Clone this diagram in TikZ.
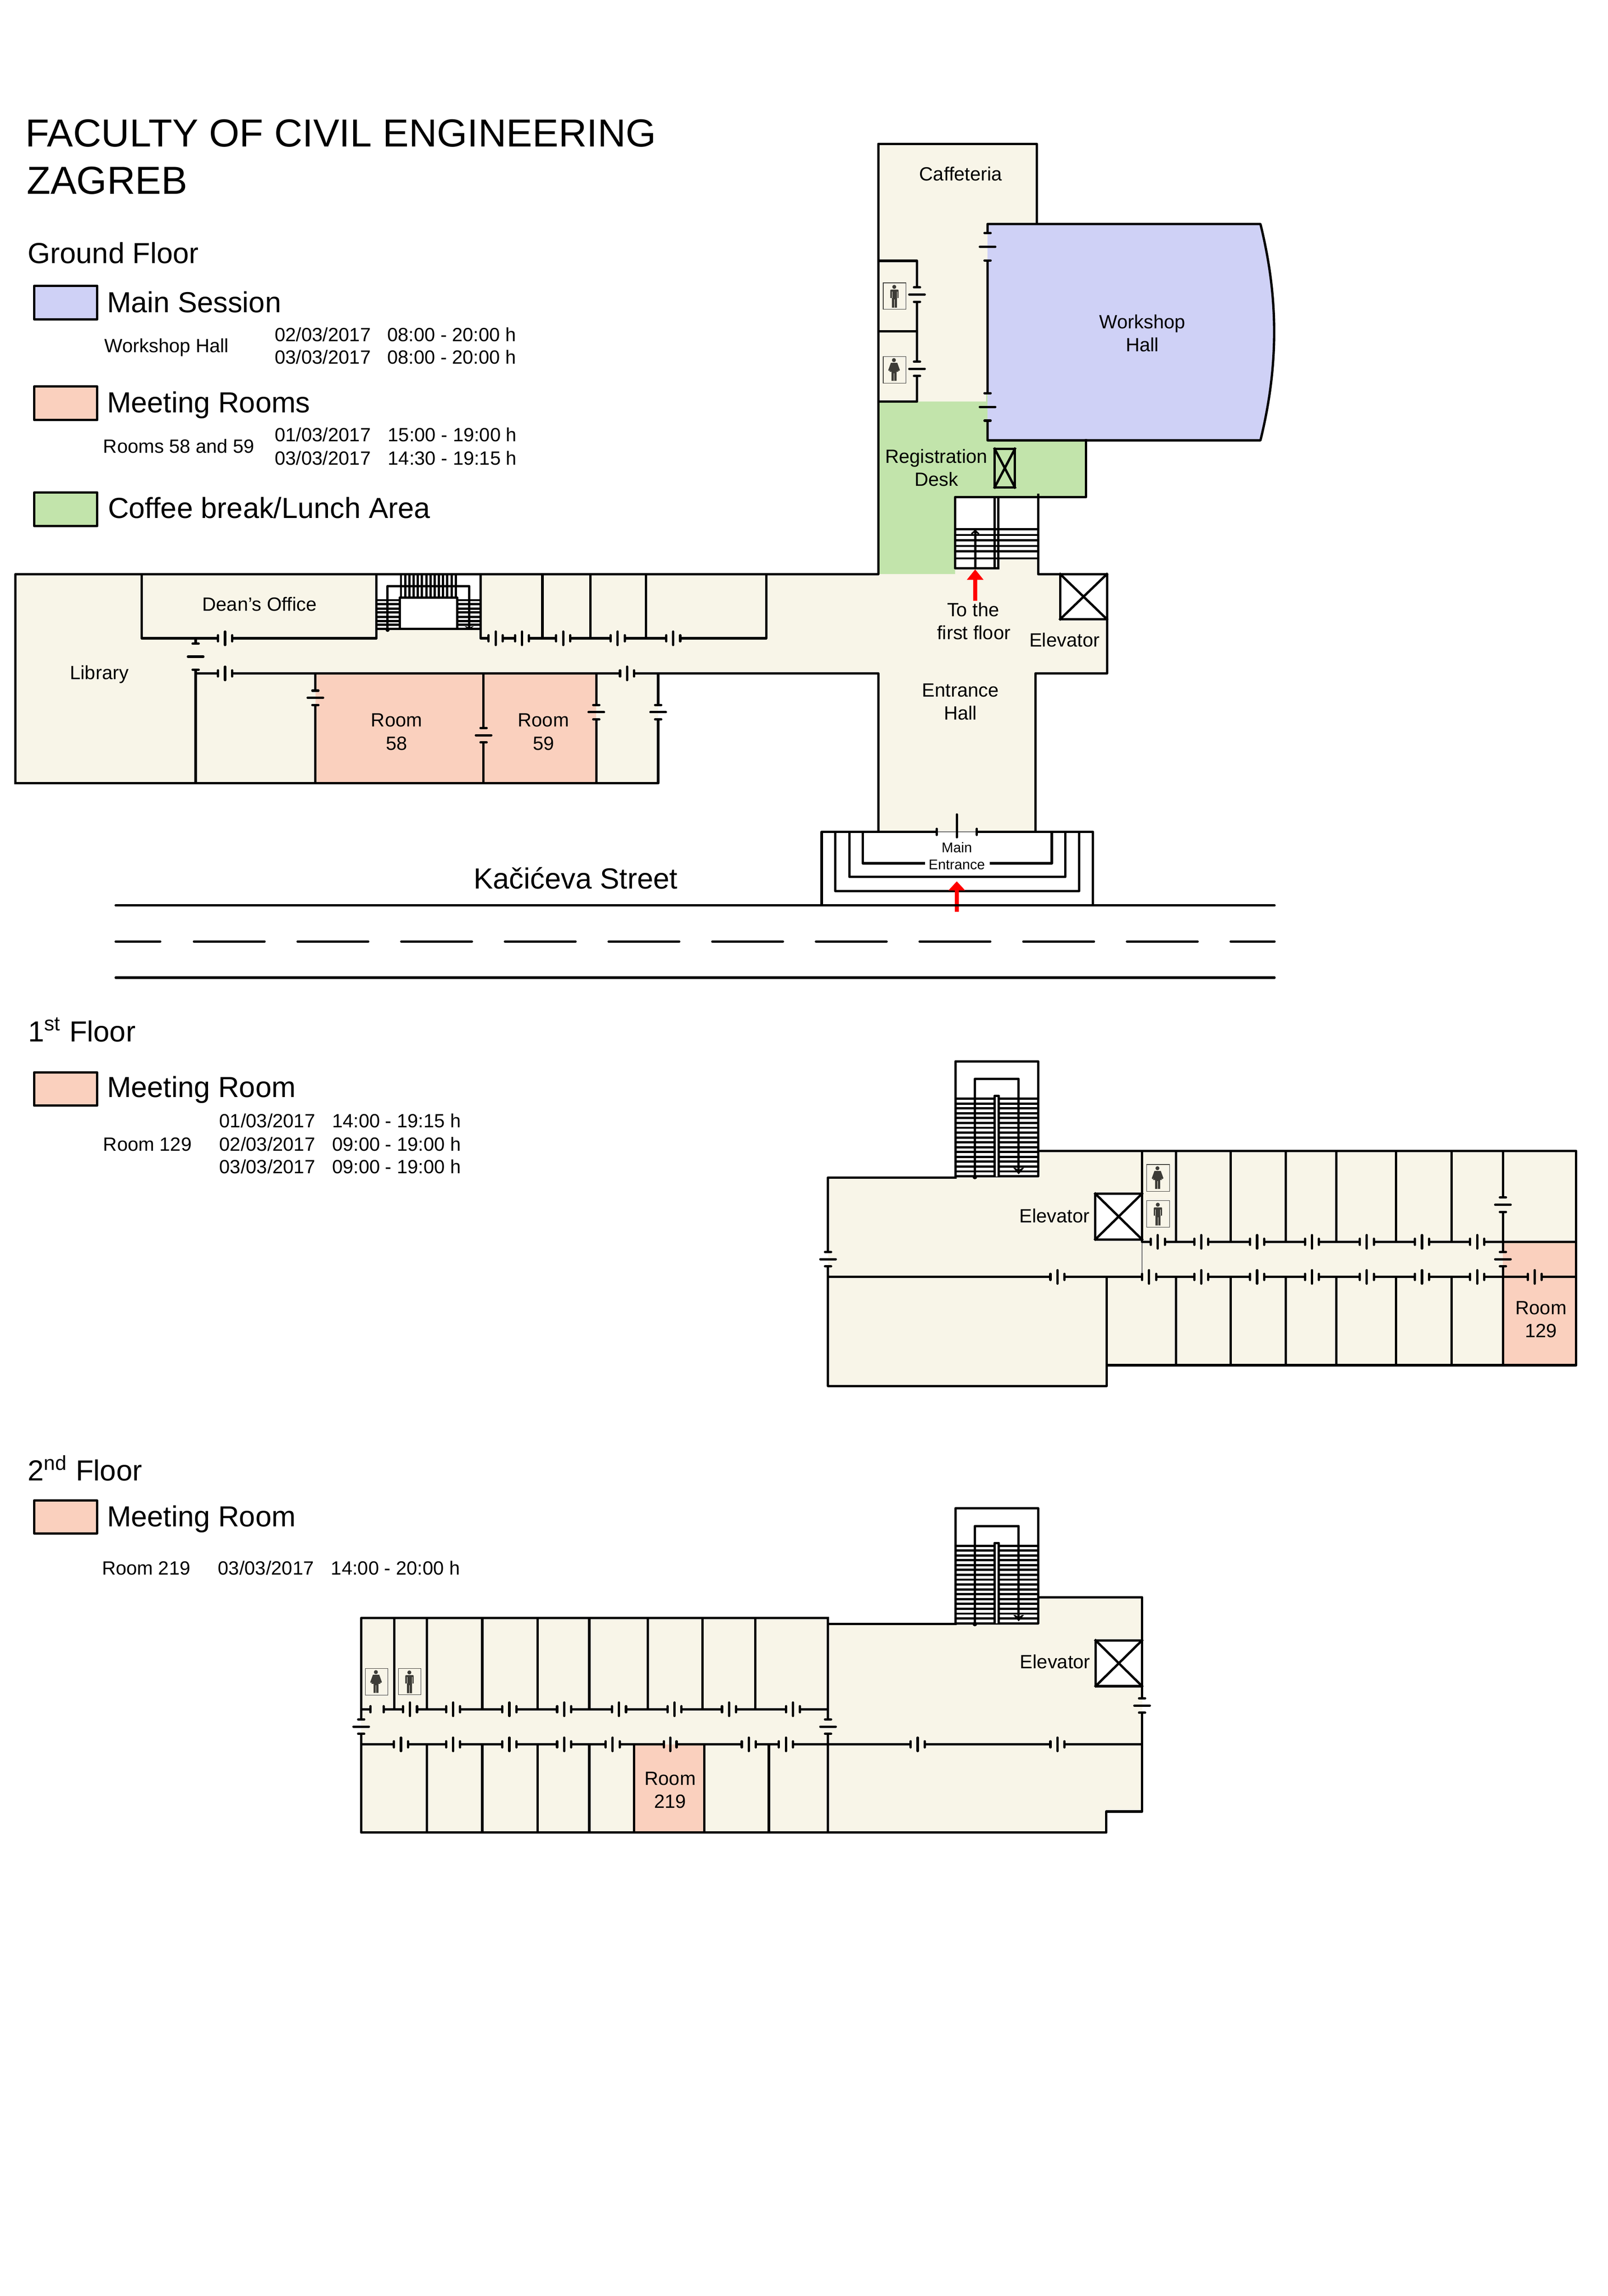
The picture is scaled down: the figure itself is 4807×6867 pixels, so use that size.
\documentclass[tikz,border=0pt]{standalone}
\usepackage{fontspec}
\setmainfont{Liberation Sans}
\definecolor{beige}{HTML}{F8F5E8}
\definecolor{pinkroom}{HTML}{FAD0BE}
\definecolor{bluehall}{HTML}{CFD1F6}
\definecolor{greenarea}{HTML}{C2E4AB}
\definecolor{icondark}{HTML}{3D3C37}
\tikzset{
  wall/.style={line width=0.88pt,line join=round,line cap=rect,draw=black},
  tread/.style={line width=0.8pt,draw=black},
  tick/.style={line width=0.88pt,line cap=round,draw=black},
  swatch/.style={line width=0.88pt,draw=black,line join=round},
  roadline/.style={line width=0.88pt,line cap=round,draw=black},
  redarrow/.style={fill=red,draw=none},
  txt/.style={inner sep=0pt,outer sep=0pt,font=\fontsize{7.16pt}{8pt}\selectfont},
  txtsmall/.style={inner sep=0pt,outer sep=0pt,font=\fontsize{5.25pt}{6pt}\selectfont},
  txtmid/.style={inner sep=0pt,outer sep=0pt,font=\fontsize{10.85pt}{12pt}\selectfont},
  txtstreet/.style={inner sep=0pt,outer sep=0pt,font=\fontsize{10.9pt}{13pt}\selectfont},
  txtbig/.style={inner sep=0pt,outer sep=0pt,font=\fontsize{14.6pt}{16pt}\selectfont}
}
% horizontal door: x y topcolour bottomcolour halfgap
\newcommand{\hdc}[5]{%
  \fill[#3] ({#1-#5},{#2-5}) rectangle ({#1+#5},#2);
  \fill[#4] ({#1-#5},#2) rectangle ({#1+#5},{#2+5});
  \draw[tick] ({#1-#5},{#2-9}) -- ({#1-#5},{#2+9});
  \draw[tick] ({#1+#5},{#2-9}) -- ({#1+#5},{#2+9});
  \draw[tick] (#1,{#2-20}) -- (#1,{#2+20});
}
\newcommand{\hd}[2]{\hdc{#1}{#2}{beige}{beige}{21}}
% vertical door: x y leftcolour rightcolour halfgap
\newcommand{\vdc}[5]{%
  \fill[#3] ({#1-5},{#2-#5}) rectangle (#1,{#2+#5});
  \fill[#4] (#1,{#2-#5}) rectangle ({#1+5},{#2+#5});
  \draw[tick] ({#1-9},{#2-#5}) -- ({#1+9},{#2-#5});
  \draw[tick] ({#1-9},{#2+#5}) -- ({#1+9},{#2+#5});
  \draw[tick] ({#1-23},#2) -- ({#1+23},#2);
}
\newcommand{\vd}[2]{\vdc{#1}{#2}{beige}{beige}{21.5}}
% toilet icons, top-left corner of their box
\newcommand{\manicon}[2]{%
  \begin{scope}[shift={(#1,#2)}]
    \draw[line width=0.2pt,draw=icondark] (0,0) rectangle (68,79);
    \fill[icondark] (33,12) circle (6);
    \fill[icondark] (21,22) -- (23,20) -- (44,20) -- (46,22) -- (46,45) -- (41,45) -- (41,74) -- (26,74) -- (26,45) -- (21,45) -- cycle;
    \draw[beige,line width=0.1pt] (26,26) -- (26,45) (41,26) -- (41,45) (33.5,50) -- (33.5,74);
  \end{scope}}
\newcommand{\womanicon}[2]{%
  \begin{scope}[shift={(#1,#2)}]
    \draw[line width=0.2pt,draw=icondark] (0,0) rectangle (68,80);
    \fill[icondark] (32,11) circle (6);
    \fill[icondark] (23,19) -- (42,19) -- (50,41) -- (46,44) -- (44,38) -- (45,46) -- (40,46) -- (40,73) -- (25,73) -- (25,46) -- (19,46) -- (21,38) -- (18,44) -- (15,41) -- cycle;
    \draw[beige,line width=0.1pt] (32.5,50) -- (32.5,73);
  \end{scope}}
% X-marked lift box
\newcommand{\liftbox}[5]{%
  \draw[wall,fill=#5] (#1,#2) rectangle (#3,#4);
  \draw[wall] (#1,#2) -- (#3,#4) (#1,#4) -- (#3,#2);
}
% upper-floor staircase, vertical shift
\newcommand{\upperstairs}[1]{%
  \begin{scope}[shift={(0,#1)}]
    \fill[white] (2857,3174) rectangle (3104,3518);
    \foreach \i in {0,...,16} {\draw[tread,line width=0.84pt] (2857,{3286+14.5*\i}) -- (3104,{3286+14.5*\i});}
    \draw[wall] (2857,3518) -- (2857,3174) -- (3104,3174) -- (3104,3518) -- cycle;
    \draw[wall] (2915,3518) -- (2915,3227) -- (3046,3227) -- (3046,3505);
    \fill[white] (2974,3278) rectangle (2987,3518);
    \draw[wall] (2974,3518) -- (2974,3278) -- (2987,3278) -- (2987,3518);
    \fill (2915,3520) circle (7);
    \fill (3030,3493) -- (3036,3493) -- (3046,3500) -- (3056,3493) -- (3062,3493) -- (3046,3512) -- cycle;
  \end{scope}}
\begin{document}
\begin{tikzpicture}[x=0.125pt,y=-0.125pt]
\useasboundingbox (0,0) rectangle (4807,6867);
\fill[white] (0,0) rectangle (4807,6867);

% ---------- Titles and legend ----------
\node[txtbig,anchor=base west] (title1) at (76,439) {FACULTY OF CIVIL ENGINEERING};
\node[txtbig,anchor=base west] (title2) at (80,580) {ZAGREB};
\node[txtmid,anchor=base west] (groundfloor) at (83,787) {Ground Floor};

\draw[swatch,fill=bluehall] (102,855) rectangle (291,955);
\node[txtmid,anchor=base west] (mainsession) at (320,934) {Main Session};
\node[txt,anchor=base west] (wh) at (313,1054) {Workshop Hall};
\node[txt,anchor=base west] (wd1) at (822,1021) {02/03/2017};
\node[txt,anchor=base west] (wt1) at (1158,1021) {08:00 - 20:00 h};
\node[txt,anchor=base west] (wd2) at (822,1089) {03/03/2017};
\node[txt,anchor=base west] (wt2) at (1158,1089) {08:00 - 20:00 h};

\draw[swatch,fill=pinkroom] (102,1156) rectangle (291,1256);
\node[txtmid,anchor=base west] (meetingrooms) at (320,1234) {Meeting Rooms};
\node[txt,anchor=base west] (r5859) at (309,1355) {Rooms 58 and 59};
\node[txt,anchor=base west] (md1) at (822,1320) {01/03/2017};
\node[txt,anchor=base west] (mt1) at (1160,1320) {15:00 - 19:00 h};
\node[txt,anchor=base west] (md2) at (822,1390) {03/03/2017};
\node[txt,anchor=base west] (mt2) at (1160,1390) {14:30 - 19:15 h};

\draw[swatch,fill=greenarea] (102,1473) rectangle (291,1573);
\node[txtmid,anchor=base west] (coffee) at (323,1550) {Coffee break/Lunch Area};

\node[txtmid,anchor=base west] (firstfloor) at (84,3115) {1\textsuperscript{st} Floor};
\draw[swatch,fill=pinkroom] (102,3207) rectangle (290,3307);
\node[txtmid,anchor=base west] (meeting1) at (320,3282) {Meeting Room};
\node[txt,anchor=base west] (r129) at (309,3442) {Room 129};
\node[txt,anchor=base west] (fd1) at (656,3373) {01/03/2017};
\node[txt,anchor=base west] (ft1) at (993,3373) {14:00 - 19:15 h};
\node[txt,anchor=base west] (fd2) at (656,3442) {02/03/2017};
\node[txt,anchor=base west] (ft2) at (993,3442) {09:00 - 19:00 h};
\node[txt,anchor=base west] (fd3) at (656,3509) {03/03/2017};
\node[txt,anchor=base west] (ft3) at (993,3509) {09:00 - 19:00 h};

\node[txtmid,anchor=base west] (secondfloor) at (83,4429) {2\textsuperscript{nd} Floor};
\draw[swatch,fill=pinkroom] (102,4488) rectangle (290,4586);
\node[txtmid,anchor=base west] (meeting2) at (320,4566) {Meeting Room};
\node[txt,anchor=base west] (r219) at (305,4710) {Room 219};
\node[txt,anchor=base west] (sd1) at (652,4710) {03/03/2017};
\node[txt,anchor=base west] (st1) at (990,4710) {14:00 - 20:00 h};

% ---------- Ground floor fills ----------
\fill[beige] (46,1717) -- (3310,1717) -- (3310,2014) -- (3096,2014) -- (3096,2488) -- (2626,2488) -- (2626,2014) -- (1968,2014) -- (1968,2342) -- (46,2342) -- cycle;
\fill[beige] (2626,430) -- (3100,430) -- (3100,680) -- (2953,680) -- (2953,1201) -- (2626,1201) -- cycle;
\fill[greenarea] (2626,1201) -- (2953,1201) -- (2953,1317) -- (3247,1317) -- (3247,1487) -- (2856,1487) -- (2856,1717) -- (2626,1717) -- cycle;
\fill[beige] (2856,1660) rectangle (3104,1717);
\fill[white] (2856,1487) rectangle (2985,1699);
\fill[white] (2985,1487) rectangle (3104,1670);
\fill[bluehall] (2953,670) -- (3769,670) .. controls (3796,780) and (3810,885) .. (3810,993) .. controls (3810,1100) and (3796,1207) .. (3769,1317) -- (2953,1317) -- cycle;
\fill[white] (1126,1717) rectangle (1437,1881);
\fill[pinkroom] (943,2014) rectangle (1783,2342);

% ---------- Ground floor walls ----------
\draw[wall] (46,2342) -- (46,1717) -- (2626,1717) -- (2626,430) -- (3100,430) -- (3100,670);
\draw[wall] (46,2342) -- (1968,2342) -- (1968,2014) -- (585,2014);
\draw[wall] (2626,2488) -- (2626,2014) -- (1968,2014);
\draw[wall] (585,1909) -- (585,2342);
\draw[wall] (943,2014) -- (943,2342) (1446,2014) -- (1446,2342) (1783,2014) -- (1783,2342);
\draw[wall] (424,1717) -- (424,1909) -- (1126,1909) -- (1126,1717);
\draw[wall] (1437,1717) -- (1437,1909) -- (2291,1909) -- (2291,1717);
\draw[wall] (1622,1717) -- (1622,1909) (1765,1717) -- (1765,1909) (1932,1717) -- (1932,1909);
% workshop hall
\draw[wall] (2953,1317) -- (2953,670) -- (3769,670) .. controls (3796,780) and (3810,885) .. (3810,993) .. controls (3810,1100) and (3796,1207) .. (3769,1317) -- cycle;
% toilets
\draw[wall] (2626,780) -- (2742,780) -- (2742,1201) -- (2626,1201) (2626,991) -- (2742,991);
\womanicon{2641}{1066}
\manicon{2641}{846}
% registration area
\draw[wall] (3247,1317) -- (3247,1487) -- (2856,1487) -- (2856,1699) -- (2985,1699);
\liftbox{2974}{1342}{3035}{1458}{greenarea}
% registration stairs
\foreach \y in {1583,1600,1616,1633,1649,1670} {\draw[tread] (2856,\y) -- (3104,\y);}
\draw[wall] (2974,1487) -- (2974,1699) (2985,1487) -- (2985,1699);
\draw[wall] (3104,1480) -- (3104,1717) -- (3310,1717) -- (3310,2014) -- (3096,2014) -- (3096,2488);
\draw[wall] (2916,1699) -- (2916,1592);
\draw[line width=0.6pt] (2905,1597) -- (2916,1587) -- (2927,1597);
\liftbox{3170}{1717}{3310}{1852}{white}
% dean's stairs
\foreach \y in {1795,1807,1820,1832,1845,1857,1869} {\draw[tread,line width=0.84pt] (1126,\y) -- (1195,\y) (1367,\y) -- (1437,\y);}
\foreach \i in {0,...,13} {\draw[tread,line width=0.84pt] ({1199+12.6*\i},1717) -- ({1199+12.6*\i},1787);}
\draw[wall] (1159,1881) -- (1159,1753) -- (1403,1753) -- (1403,1875);
\draw[wall] (1195,1881) -- (1195,1787) -- (1367,1787) -- (1367,1881);
\draw[wall] (1126,1881) -- (1437,1881);
\fill (1159,1884) circle (6);
\fill (1389,1873) -- (1394,1873) -- (1403,1878) -- (1412,1873) -- (1417,1873) -- (1403,1883) -- cycle;
% ground-floor doors
\foreach \x in {673,1482,1561,1684,1847,2013} {\hd{\x}{1909}}
\foreach \x in {673,1875} {\hd{\x}{2014}}
\vdc{585}{1964}{beige}{beige}{39}
\vdc{943}{2087}{beige}{pinkroom}{21.5}
\vdc{1446}{2199}{pinkroom}{pinkroom}{21.5}
\vdc{1783}{2130}{pinkroom}{beige}{21.5}
\vdc{1968}{2130}{beige}{white}{21.5}
\vdc{2742}{881}{beige}{beige}{21.5}
\vdc{2742}{1103}{beige}{beige}{21.5}
\vdc{2953}{738}{beige}{bluehall}{41}
\vdc{2953}{1217}{greenarea}{bluehall}{41}
% entrance steps
\draw[wall] (2457,2708) -- (2457,2488) -- (3268,2488) -- (3268,2708);
\draw[wall] (2498,2488) -- (2498,2665) -- (3227,2665) -- (3227,2488);
\draw[wall] (2540,2488) -- (2540,2623) -- (3185,2623) -- (3185,2488);
\draw[wall] (2763,2582) -- (2580,2582) -- (2580,2488) (2963,2582) -- (3145,2582) -- (3145,2488);
\fill[beige] (2801,2483) rectangle (2921,2488);
\fill[white] (2801,2488) rectangle (2921,2493);
\draw[line width=0.1pt] (2801,2488) -- (2921,2488);
\draw[tick] (2801,2479) -- (2801,2497) (2921,2479) -- (2921,2497);
\draw[tick] (2861,2436) -- (2861,2504);
% red arrows
\fill[redarrow] (2910,1797) -- (2922,1797) -- (2922,1734) -- (2941,1734) -- (2916,1703) -- (2891,1734) -- (2910,1734) -- cycle;
\fill[redarrow] (2855,2727) -- (2867,2727) -- (2867,2663) -- (2886,2663) -- (2861,2636) -- (2836,2663) -- (2855,2663) -- cycle;
% street
\draw[roadline] (346,2708) -- (3811,2708);
\draw[roadline] (346,2924) -- (3811,2924);
\draw[roadline] (346,2816) -- (479,2816);
\foreach \x in {580,890,1200,1510,1820,2130,2440,2750,3060,3370} {\draw[roadline] (\x,2816) -- ({\x+211},2816);}
\draw[roadline] (3680,2816) -- (3811,2816);
% ground-floor labels
\node[txt,anchor=base] (caffeteria) at (2873,540) {Caffeteria};
\node[txt,anchor=base] (ws1) at (3416,983) {Workshop};
\node[txt,anchor=base] (ws2) at (3416,1052) {Hall};
\node[txt,anchor=base] (reg1) at (2800,1385) {Registration};
\node[txt,anchor=base] (reg2) at (2800,1454) {Desk};
\node[txt,anchor=base] (deans) at (776,1827) {Dean's Office};
\node[txt,anchor=base] (library) at (297,2032) {Library};
\node[txt,anchor=base] (room58a) at (1186,2174) {Room};
\node[txt,anchor=base] (room58b) at (1186,2243) {58};
\node[txt,anchor=base] (room59a) at (1625,2174) {Room};
\node[txt,anchor=base] (room59b) at (1625,2243) {59};
\node[txt,anchor=base] (tothe) at (2910,1844) {To the};
\node[txt,anchor=base] (firstfl) at (2912,1913) {first floor};
\node[txt,anchor=base] (elevg) at (3183,1935) {Elevator};
\node[txt,anchor=base] (ent1) at (2872,2084) {Entrance};
\node[txt,anchor=base] (ent2) at (2872,2153) {Hall};
\node[txtsmall,anchor=base] (main1) at (2861,2549) {Main};
\node[txtsmall,anchor=base] (main2) at (2861,2600) {Entrance};
\node[txtstreet,anchor=base west] (street) at (1416,2658) {Kačićeva Street};

% ---------- First floor ----------
\fill[beige] (2476,3522) -- (3104,3522) -- (3104,3442) -- (4713,3442) -- (4713,4083) -- (3309,4083) -- (3309,4145) -- (2476,4145) -- cycle;
\fill[pinkroom] (4494,3714) rectangle (4713,4083);
\draw[wall] (2857,3522) -- (2476,3522) -- (2476,4145) -- (3309,4145) -- (3309,3819);
\draw[wall] (3104,3442) -- (4713,3442) -- (4713,4083) -- (3309,4083);
\draw[wall] (2476,3819) -- (4713,3819);
\draw[wall] (3415,3442) -- (3415,3714) -- (4713,3714);
\draw[line width=0.15pt] (3415,3714) -- (3415,3819);
\foreach \x in {3516,3680,3845,3996,4174,4340} {\draw[wall] (\x,3442) -- (\x,3714) (\x,3819) -- (\x,4083);}
\draw[wall] (4494,3442) -- (4494,4083);
\liftbox{3275}{3570}{3415}{3707}{white}
\womanicon{3429}{3483}
\manicon{3429}{3591}
\upperstairs{0}
\foreach \x in {3462,3592,3759,3923,4087,4252,4417} {\hd{\x}{3714}}
\foreach \x in {3162,3436,3592,3759,3923,4087,4252,4417} {\hd{\x}{3819}}
\hdc{4589}{3819}{pinkroom}{pinkroom}{21}
\vdc{2476}{3766}{white}{beige}{21.5}
\vd{4494}{3603}
\vdc{4494}{3766}{beige}{pinkroom}{21.5}
\node[txt,anchor=base] (elev1) at (3153,3656) {Elevator};
\node[txt,anchor=base] (room129a) at (4608,3931) {Room};
\node[txt,anchor=base] (room129b) at (4608,4000) {129};

% ---------- Second floor ----------
\fill[beige] (1080,4839) -- (2476,4839) -- (2476,4857) -- (3104,4857) -- (3104,4777) -- (3415,4777) -- (3415,5418) -- (3308,5418) -- (3308,5481) -- (1080,5481) -- cycle;
\fill[pinkroom] (1896,5217) rectangle (2106,5481);
\draw[wall] (2857,4857) -- (2476,4857) -- (2476,4839) -- (1080,4839) -- (1080,5481) -- (3308,5481) -- (3308,5418) -- (3415,5418) -- (3415,4777) -- (3104,4777);
\draw[wall] (2476,4839) -- (2476,5481);
\draw[wall] (1080,5112) -- (2476,5112);
\draw[wall] (1080,5217) -- (3415,5217);
\foreach \x in {1179,1277,1442,1607,1762,1937,2101,2258} {\draw[wall] (\x,4839) -- (\x,5112);}
\foreach \x in {1277,1442,1607,1762,1896,2106,2299} {\draw[wall] (\x,5217) -- (\x,5481);}
\liftbox{3276}{4906}{3415}{5043}{white}
\womanicon{1092}{4990}
\manicon{1191}{4990}
\upperstairs{1337}
\foreach \x in {1226,1355,1523,1687,1851,2017,2180,2371} {\hd{\x}{5112}}
\fill[beige] (1108,5107) rectangle (1147,5117);
\draw[tick] (1108,5103) -- (1108,5121) (1147,5103) -- (1147,5121);
\foreach \x in {1199,1355,1523,1687,1832,2239,2350,2744,3162} {\hd{\x}{5217}}
\hdc{2004}{5217}{beige}{pinkroom}{19}
\vdc{1080}{5164}{white}{beige}{21.5}
\vd{2476}{5164}
\vdc{3415}{5101}{beige}{white}{21.5}
\node[txt,anchor=base] (elev2) at (3155,4990) {Elevator};
\node[txt,anchor=base] (room219a) at (2004,5339) {Room};
\node[txt,anchor=base] (room219b) at (2004,5408) {219};
\end{tikzpicture}
\end{document}
